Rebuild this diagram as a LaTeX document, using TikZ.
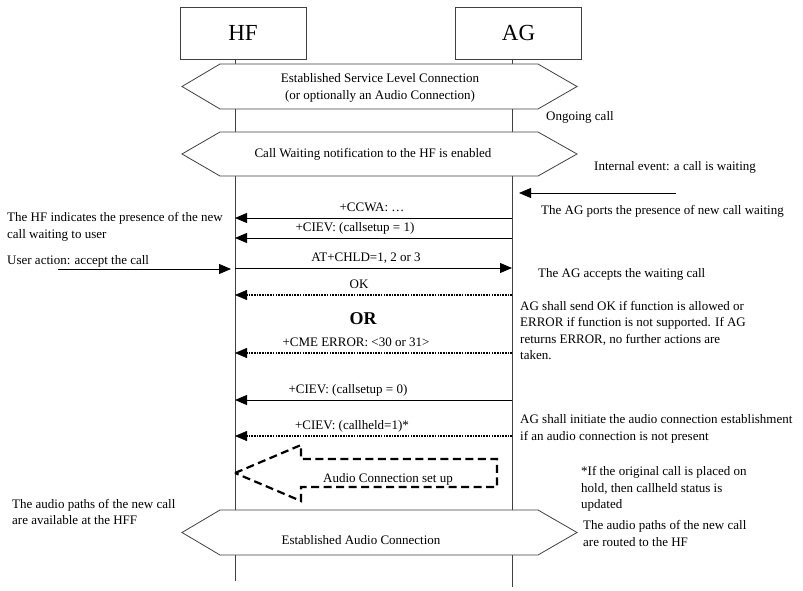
\documentclass[tikz,border=0pt]{standalone}
\usepackage{fontspec}
\setmainfont{Liberation Serif}
\usetikzlibrary{arrows.meta}
\tikzset{
  life/.style={black!75, line width=0.8pt},
  hexa/.style={black!75, line width=0.8pt, fill=white},
  entity/.style={draw=black!75, line width=0.8pt, minimum width=126pt, minimum height=52pt, font=\fontsize{23}{26}\selectfont},
  hextext/.style={inner sep=0pt, align=center, font=\fontsize{13}{17}\selectfont},
  msg/.style={line width=0.8pt, -{Triangle[length=12pt,width=10pt]}},
  resp/.style={line width=2.8pt, dash pattern=on 1.6pt off 1.1pt, -{Triangle[length=12pt,width=10pt,line width=0.5pt]}},
  setup/.style={line width=2.2pt, dash pattern=on 8pt off 4.5pt},
  lbl/.style={anchor=base, inner sep=0pt, font=\fontsize{13}{16}\selectfont},
  note/.style={anchor=west, inner sep=0pt, align=left, font=\fontsize{13}{16.5}\selectfont},
}
\begin{document}
\begin{tikzpicture}[x=1pt,y=-1pt]
\useasboundingbox (0,0) rectangle (803,591);
% entities and lifelines
\node[entity] (hfbox) at (243,33) {HF};
\node[entity] (agbox) at (518.5,33) {AG};
\coordinate (hf) at (235,59);
\coordinate (ag) at (512,59);
\draw[life] (hf) -- (hf |- 0,581);
\draw[life] (ag) -- (ag |- 0,587);
% connection states
\foreach \t/\b in {64/109,132/176,510/555} {
  \draw[hexa] (182,{(\t+\b)/2}) -- (220,\t) -- (538,\t) -- (577,{(\t+\b)/2}) -- (538,\b) -- (220,\b) -- cycle;
}
\node[hextext] (slc) at (380,87.5) {Established Service Level Connection\\(or optionally an Audio Connection)};
\node[hextext] (cwn) at (373,154) {Call Waiting notification to the HF is enabled};
\node[hextext] (eac) at (361,540) {Established Audio Connection};
% messages
\draw[msg] (ag |- 0,218) -- (hf |- 0,218);
\node[lbl] (ccwa) at (372,211) {+CCWA: …};
\draw[msg] (ag |- 0,238) -- (hf |- 0,238);
\node[lbl] (ciev1) at (355,231) {+CIEV: (callsetup = 1)};
\draw[msg] (hf |- 0,268) -- (ag |- 0,268);
\node[lbl] (chld) at (366,261) {AT+CHLD=1, 2 or 3};
\draw[resp] (ag |- 0,295) -- (hf |- 0,295);
\node[lbl] (ok) at (359,288) {OK};
\node[font=\bfseries\fontsize{18}{20}\selectfont, inner sep=0pt] (or) at (363,319) {OR};
\draw[resp] (ag |- 0,353) -- (hf |- 0,353);
\node[lbl] (cme) at (356,346) {+CME ERROR: <30 or 31>};
\draw[msg] (ag |- 0,400) -- (hf |- 0,400);
\node[lbl] (ciev0) at (348,393) {+CIEV: (callsetup = 0)};
\draw[resp] (ag |- 0,436) -- (hf |- 0,436);
\node[lbl] (held) at (352,429) {+CIEV: (callheld=1)*};
% audio connection set up
\draw[setup] (235,473) -- (301,445) -- (301,459) -- (497,459) -- (497,487) -- (301,487) -- (301,501) -- cycle;
\node[hextext] (acs) at (388,479) {Audio Connection set up};
% external events
\coordinate (ie) at (676,193);
\coordinate (ietip) at (519,193);
\draw[msg] (ie) -- (ietip);
\coordinate (ua) at (58,269);
\coordinate (uatip) at (231,269);
\draw[msg] (ua) -- (uatip);
% notes
\node[note] (n1) at (7,227) {The HF indicates the presence of the new\\call waiting to user};
\node[note] (n2) at (7,261) {User action: accept the call};
\node[note] (n3) at (12,512) {The audio paths of the new call\\are available at the HFF};
\node[note] (n4) at (546,117) {Ongoing call};
\node[note] (n5) at (594,167) {Internal event: a call is waiting};
\node[note] (n6) at (541,211) {The AG ports the presence of new call waiting};
\node[note] (n7) at (538,274) {The AG accepts the waiting call};
\node[note] (n8) at (520,330.5) {AG shall send OK if function is allowed or\\ERROR if function is not supported. If AG\\returns ERROR, no further actions are\\taken.};
\node[note] (n9) at (520,429) {AG shall initiate the audio connection establishment\\if an audio connection is not present};
\node[note] (n10) at (581,489) {*If the original call is placed on\\hold, then callheld status is\\updated};
\node[note] (n11) at (583,533.5) {The audio paths of the new call\\are routed to the HF};
\end{tikzpicture}
\end{document}
